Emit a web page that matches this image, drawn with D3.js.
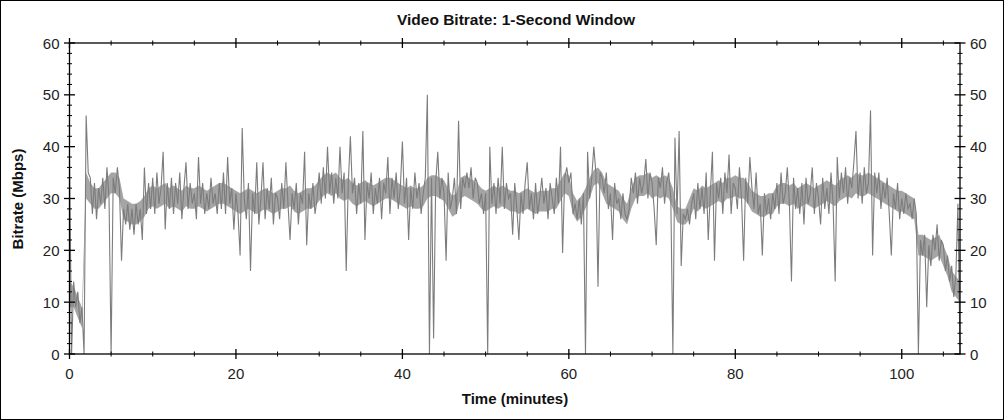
<!DOCTYPE html>
<html>
<head>
<meta charset="utf-8">
<script src="https://cdn.jsdelivr.net/npm/d3@7"></script>
<style>
  html, body { margin: 0; padding: 0; background: #fff; }
  svg { display: block; }
</style>
</head>
<body>
<svg id="chart" width="1004" height="420"></svg>
<script>
// ---- data ----
// extremes of the 1-second bitrate (Mbps), one value every 0.25 minute
const sampleStep = 0.25;
const bitrate = [
  38, 0, 14, 9,      12, 6, 9, 0,       46, 35, 34, 27,    33, 26, 32, 29,
  34, 28, 36, 30,    0, 34, 31, 36,     32, 18, 28, 25,    29, 24, 28, 23,
  29, 25, 28, 22,    36, 27, 33, 28,    34, 27, 35, 29,    32, 39, 24, 33,
  28, 34, 27, 33,    29, 35, 26, 32,    37, 28, 33, 29,    31, 26, 38, 29,
  33, 27, 31, 28,    34, 29, 31, 27,    33, 28, 35, 27,    38, 29, 32, 24,
  31, 27, 19, 43.6,  30, 26, 33, 16,    31, 27, 37, 25,    30, 37, 26, 32,
  28, 34, 25, 31,    30, 26, 33, 28,    37, 29, 22, 31,    28, 33, 25, 31,
  29, 39, 21, 31,    28, 33, 27, 30,    35, 29, 36, 30,    40, 31, 35, 29,
  34, 30, 40, 31,    35, 16, 33, 42,    31, 34, 27, 33,    29, 43, 22, 33,
  30, 35, 27, 32,    29, 34, 26, 33,    31, 38, 27, 34,    30, 35, 28, 32,
  41, 29, 34, 22,    32, 28, 35, 30,    33, 27, 31, 34,    50, 0, 34, 3,
  33, 39, 30, 34,    31, 18, 35, 28,    30, 34, 27, 45,    28, 34, 32, 35,
  32, 36, 30, 34,    33, 29, 31, 27,    31, 0, 40, 29,     33, 27, 34, 29,
  40, 28, 33, 30,    31, 23, 33, 28,    22, 31, 27, 33,    37, 28, 31, 26,
  33, 27, 30, 34,    29, 32, 26, 33,    30, 27, 34, 29,    40, 19.5, 34, 36,
  33, 35, 27, 29,    26, 30, 25, 31,    0, 39, 30, 34,     40, 35, 13, 35,
  34, 31, 35, 28,    31, 22, 33, 29,    30, 26, 31, 27,    26, 28, 34, 31,
  35, 29, 34, 31,    33, 37.6, 30, 35,  33, 28, 21, 34,    32, 36, 29, 33,
  35, 30, 0, 41.7,   27, 43, 17, 27,    26, 28, 25, 29,    31, 26, 33, 28,
  32, 27, 35, 22,    31, 39, 18, 33,    30, 34, 27, 35,    31, 38.5, 27, 33,
  32, 28, 36, 30,    18, 34, 29, 38,    32, 28, 35, 27,    29, 19, 31, 27,
  30, 26, 31, 28,    33, 27, 35, 29,    31, 36, 29, 14,    34, 28, 32, 27,
  33, 25, 34, 29,    31, 36, 27, 33,    30, 25, 34, 28,    32, 27, 35, 29,
  14, 38, 30, 35,    31, 36, 29, 34,    32, 37, 43, 30,    35, 29, 36, 31,
  33, 47, 19, 35,    31, 35, 28, 33,    30, 34, 27, 19,    31, 28, 33, 26,
  30, 27, 31, 28,    29, 26, 30, 27,    0, 22, 19, 23,     9, 21, 17, 23,
  20, 25, 18, 22,    21, 16, 19, 14,    17, 11, 15, 29,    0
];
// dense core of the trace: [low, high] Mbps, one pair every 0.5 minute
const coreStep = 0.5;
const coreBand = [
  [9,14],[9,13],[7,11],[5,9],[30,35],[29,33],[28,32],[28,32],[29,33],[30,34],
  [31,35],[31,35],[30,34],[26,30],[25.5,29.5],[25,29],[25,29],[25.5,29.5],[26.5,30.5],[28,32],
  [28.5,32.5],[28,32],[28.5,32.5],[29,33],[28,32],[28.5,32.5],[28,32],[27.5,31.5],[28.5,32.5],[28,32],
  [28,32],[28.5,32.5],[28,32],[27.5,31.5],[28,32],[28.5,32.5],[29,33],[29,33],[28.5,32.5],[28,32],
  [27.5,31.5],[27,31],[27.5,31.5],[28,32],[27.5,31.5],[27,31],[27.5,31.5],[28,32],[27.5,31.5],[27,31],
  [27.5,31.5],[28,32],[28,32],[28.5,32.5],[27.5,31.5],[27,31],[27.5,31.5],[28,32],[28,32],[28.5,32.5],
  [29.5,33.5],[30.5,34.5],[31,35],[30.5,34.5],[31,35],[30,34],[29.5,33.5],[30,34],[29,33],[28.5,32.5],
  [29,33],[29.5,33.5],[29,33],[28.5,32.5],[29,33],[29.5,33.5],[30,34],[30,34],[29.5,33.5],[29,33],
  [28.5,32.5],[28,32],[28.5,32.5],[28,32],[28,32],[28.5,32.5],[30,34],[30.5,34.5],[30.5,34.5],[30,34],
  [29.5,33.5],[28,32],[26.5,30.5],[27,31],[30,34],[30.5,34.5],[30,34],[29.5,33.5],[29,33],[28,32],
  [27.5,31.5],[28,32],[28.5,32.5],[28,32],[28.5,32.5],[28,32],[27.5,31.5],[27.5,31.5],[27,31],[27.5,31.5],
  [28,32],[27.5,31.5],[27,31],[27.5,31.5],[27.5,31.5],[27.5,31.5],[28,32],[28,32],[29.5,33.5],[31,35],
  [30.5,34.5],[27,31],[25.5,29.5],[26.5,30.5],[28,32],[30,34],[32.5,35.5],[33,36],[31,35],[29,33],
  [28.5,32.5],[28,32],[27.5,31.5],[26,30],[25,29],[28,32],[30,34],[30.5,34.5],[30.5,34.5],[31,35],
  [30,34],[30.5,34.5],[30,34],[30.5,34.5],[30,34],[28,32],[25.5,28.5],[25,28],[25,28],[26,30],
  [28,32],[27.5,31.5],[28.5,32.5],[28,32],[28.5,32.5],[29,33],[29.5,33.5],[29,33],[30,34],[30,34],
  [30.5,34.5],[30,34],[30,34],[29,33],[27.5,31.5],[27,31],[26.5,30.5],[26.5,30.5],[27,31],[27,31],
  [28.5,32.5],[29,33],[29,33],[28.5,32.5],[29,33],[28,32],[28.5,32.5],[29,33],[28.5,32.5],[28,32],
  [28.5,32.5],[29,33],[29.5,33.5],[29,33],[28.5,32.5],[29.5,33.5],[30,34],[30.5,34.5],[30,34],[31,35],
  [30.5,34.5],[30.5,34.5],[31,35],[30.5,34.5],[30,34],[29.5,33.5],[29,33],[28.5,32.5],[28,32],[27.5,31.5],
  [27.5,31.5],[27,31],[26.5,30.5],[26,30],[19,23],[19,23],[18.5,22.5],[18,22],[18.5,22.5],[19,23],
  [17,21],[15,19],[12,16],[11,15],[10,14]
];
const xTicks = [0, 20, 40, 60, 80, 100];
const yTicks = [0, 10, 20, 30, 40, 50, 60];
const titleText = "Video Bitrate: 1-Second Window";
const xLabel = "Time (minutes)";
const yLabel = "Bitrate (Mbps)";

// ---- layout ----
const svg = d3.select("#chart");
const W = 1004, H = 420;
const mLeft = 69.5, mRight = 960, mTop = 43, mBottom = 354;
const x = d3.scaleLinear().domain([0, 107]).range([mLeft, mRight]);
const y = d3.scaleLinear().domain([0, 60]).range([mBottom, mTop]);
const font = "'Liberation Sans', Arial, sans-serif";

// outer border
svg.append("rect").attr("x", 0.5).attr("y", 0.5).attr("width", W - 1).attr("height", H - 1)
  .attr("fill", "#fff").attr("stroke", "#000").attr("stroke-width", 1);

// trace: dense core (underneath)
const core = coreBand.map((d, i) => ({ t: i * coreStep, lo: d[0], hi: d[1] }));
svg.append("path")
  .datum(core)
  .attr("fill", "#8e8e8e")
  .attr("fill-opacity", 0.8)
  .attr("stroke", "none")
  .attr("d", d3.area().x(d => x(d.t)).y0(d => y(d.lo)).y1(d => y(d.hi)));

// trace: extremes line (on top, gives the noisy texture)
const pts = bitrate.map((v, i) => [i * sampleStep, v]);
svg.append("path")
  .datum(pts)
  .attr("fill", "none")
  .attr("stroke", "#7c7c7c")
  .attr("stroke-width", 1.1)
  .attr("d", d3.line().x(d => x(d[0])).y(d => y(d[1])));

const minorX = d3.range(0, 107.01, 5).filter(v => !xTicks.includes(v));
const minorY = d3.range(0, 60.01, 2).filter(v => !yTicks.includes(v));

const axisG = svg.append("g").attr("stroke", "#000");
axisG.append("rect").attr("x", mLeft).attr("y", mTop).attr("width", mRight - mLeft).attr("height", mBottom - mTop)
  .attr("fill", "none").attr("stroke", "#000").attr("stroke-width", 1.3);

function drawXTicks(yPos) {
  axisG.selectAll(null).data(xTicks).enter().append("line")
    .attr("x1", d => x(d)).attr("x2", d => x(d))
    .attr("y1", yPos - 5).attr("y2", yPos + 5).attr("stroke-width", 1.3);
  axisG.selectAll(null).data(minorX).enter().append("line")
    .attr("x1", d => x(d)).attr("x2", d => x(d))
    .attr("y1", yPos - 2.5).attr("y2", yPos + 2.5).attr("stroke-width", 1);
}
function drawYTicks(xPos) {
  axisG.selectAll(null).data(yTicks).enter().append("line")
    .attr("y1", d => y(d)).attr("y2", d => y(d))
    .attr("x1", xPos - 5.5).attr("x2", xPos + 5.5).attr("stroke-width", 1.3);
  axisG.selectAll(null).data(minorY).enter().append("line")
    .attr("y1", d => y(d)).attr("y2", d => y(d))
    .attr("x1", xPos - 2.5).attr("x2", xPos + 2.5).attr("stroke-width", 1);
}
drawXTicks(mBottom); drawXTicks(mTop);
drawYTicks(mLeft); drawYTicks(mRight);

// tick labels
const lab = svg.append("g").attr("font-family", font).attr("font-size", 15).attr("fill", "#222");
lab.selectAll(null).data(xTicks).enter().append("text")
  .attr("x", d => x(d)).attr("y", mBottom + 25).attr("text-anchor", "middle").text(d => d);
lab.selectAll(null).data(yTicks).enter().append("text")
  .attr("x", mLeft - 10).attr("y", d => y(d) + 5.5).attr("text-anchor", "end").text(d => d);
lab.selectAll(null).data(yTicks).enter().append("text")
  .attr("x", mRight + 10).attr("y", d => y(d) + 5.5).attr("text-anchor", "start").text(d => d);

// titles
svg.append("text").attr("x", 516).attr("y", 25).attr("text-anchor", "middle")
  .attr("font-family", font).attr("font-weight", "bold").attr("font-size", 15.5).attr("fill", "#111")
  .text(titleText);
svg.append("text").attr("x", 515).attr("y", 404).attr("text-anchor", "middle")
  .attr("font-family", font).attr("font-weight", "bold").attr("font-size", 15).attr("fill", "#111")
  .text(xLabel);
svg.append("text").attr("transform", "translate(23,199) rotate(-90)").attr("text-anchor", "middle")
  .attr("font-family", font).attr("font-weight", "bold").attr("font-size", 15).attr("fill", "#111")
  .text(yLabel);
</script>
</body>
</html>
